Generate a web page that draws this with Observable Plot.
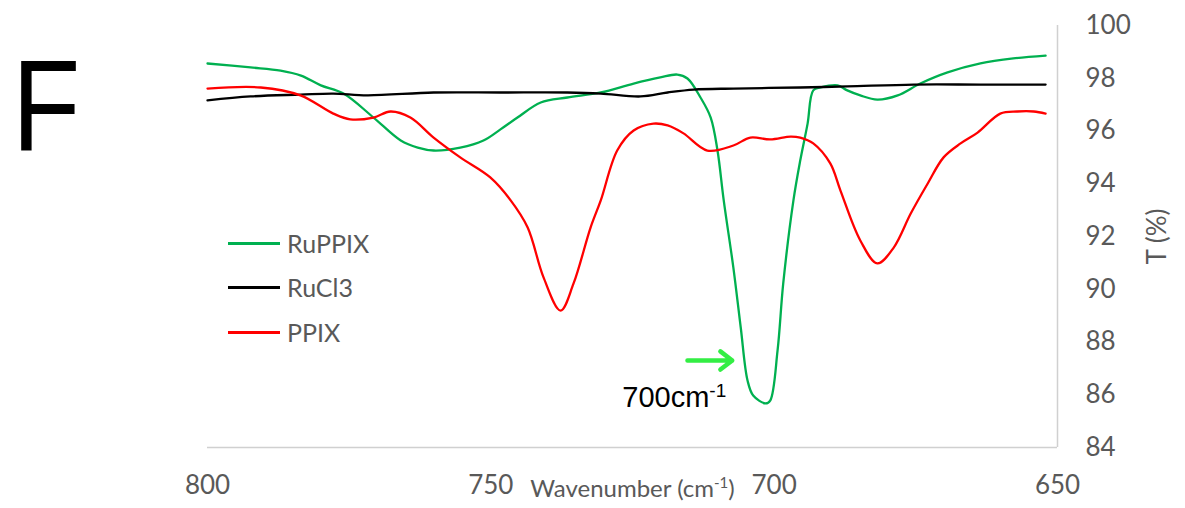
<!DOCTYPE html>
<html><head><meta charset="utf-8">
<script src="https://cdn.jsdelivr.net/npm/d3@7"></script>
<script src="https://cdn.jsdelivr.net/npm/@observablehq/plot@0.6"></script>
<style>
body{margin:0;background:#fff;}
#wrap{position:relative;width:1185px;height:508px;overflow:hidden;background:#fff;}
#wrap svg{position:absolute;left:0;top:0;}
.panel{position:absolute;left:12px;top:40px;font-family:"Liberation Sans",Arial,sans-serif;font-size:130px;line-height:1;color:#000;transform:scaleX(0.86);transform-origin:left top;}
.leg{position:absolute;left:228px;font-family:Lato,sans-serif;font-size:25px;color:#595959;display:flex;align-items:center;height:30px;}
.leg span.sw{display:inline-block;width:52px;height:3px;margin-right:7px;}
</style></head><body><div id="wrap"></div><script>
// RuPPIX
const wnRuPPIX = [800, 792.4, 787.1, 783.5, 780.0, 776.0, 770.7, 765.9, 762.9, 760.1, 755.4, 751.3, 748.3, 745.3, 741.2, 736.5, 730.6, 724.8, 720.1, 717.1, 715.3, 713.0, 711.2, 710.0, 708.9, 707.2, 705.9, 704.7, 703.7, 701.5, 700.7, 699.4, 698.4, 696.6, 695.4, 694.1, 693.1, 691.8, 688.8, 687.1, 684.8, 681.8, 678.2, 674.2, 669.4, 663.6, 657.8, 652.1];
const tRuPPIX = [98.56, 98.41, 98.29, 98.10, 97.73, 97.42, 96.51, 95.64, 95.37, 95.26, 95.37, 95.64, 96.06, 96.51, 97.08, 97.27, 97.46, 97.80, 98.03, 98.14, 97.99, 97.27, 96.51, 95.26, 93.37, 90.82, 88.55, 86.54, 85.97, 85.67, 85.78, 87.68, 90.22, 93.37, 94.88, 96.28, 97.54, 97.65, 97.73, 97.54, 97.35, 97.19, 97.35, 97.80, 98.22, 98.56, 98.75, 98.86];
// RuCl3
const wnRuCl3 = [800, 792.4, 783.6, 777.8, 771.8, 760.1, 748.3, 736.5, 730.6, 723.6, 718.8, 714.2, 707.2, 695.4, 687.1, 675.4, 663.6, 652.1];
const tRuCl3 = [97.16, 97.31, 97.38, 97.42, 97.35, 97.46, 97.46, 97.46, 97.42, 97.31, 97.46, 97.57, 97.61, 97.65, 97.69, 97.76, 97.76, 97.76];
// PPIX
const wnPPIX = [800, 790.6, 783.6, 777.8, 774.8, 770.7, 767.7, 764.2, 760.1, 755.4, 750.1, 746.5, 743.5, 740.7, 737.7, 735.4, 732.4, 730.6, 727.7, 724.8, 721.3, 718.8, 716.0, 711.8, 707.2, 704.2, 700.7, 697.1, 695.4, 693.1, 690.1, 688.3, 684.8, 681.8, 678.9, 675.9, 672.9, 670.1, 667.1, 664.1, 660.1, 657.1, 654.2, 652.1];
const tPPIX = [97.61, 97.65, 97.35, 96.66, 96.44, 96.51, 96.74, 96.51, 95.75, 95.00, 94.24, 93.37, 92.34, 90.45, 89.19, 90.22, 92.34, 93.37, 95.26, 96.02, 96.28, 96.21, 95.91, 95.26, 95.45, 95.75, 95.68, 95.79, 95.75, 95.53, 94.77, 93.74, 91.85, 90.98, 91.58, 92.87, 94.01, 95.00, 95.53, 95.94, 96.66, 96.74, 96.74, 96.66];

const seriesNames = ["RuPPIX", "RuCl3", "PPIX"];
const seriesColors = ["#00B050", "#000000", "#FF0000"];
const xTicks = [800, 750, 700, 650];
const yTicks = [84, 86, 88, 90, 92, 94, 96, 98, 100];
const xLabelParts = ["Wavenumber (cm", "-1", ")"];
const yLabel = "T (%)";
const panelLabel = "F";
// annotation (arrow pointing at the 700 cm-1 band)
const arrowFrom = [715.3]; const arrowTo = [707.4]; const arrowT = [87.3];
const annotX = [726.8]; const annotT = [85.9]; const annotParts = [["700cm", "-1"]];

const rows = [];
[[wnRuPPIX, tRuPPIX], [wnRuCl3, tRuCl3], [wnPPIX, tPPIX]].forEach(([w, t], i) => {
  w.forEach((v, j) => rows.push({series: seriesNames[i], wn: v, t: t[j]}));
});
const arrows = arrowFrom.map((v, i) => ({x1: v, x2: arrowTo[i], y: arrowT[i]}));
const annots = annotX.map((v, i) => ({x: v, y: annotT[i], text: annotParts[i].join("")}));
const xLabel = xLabelParts.join("");

const chart = Plot.plot({
  width: 1185, height: 508,
  marginLeft: 207, marginRight: 128, marginTop: 25, marginBottom: 61,
  x: {domain: [800, 650]},
  y: {domain: [84, 100]},
  color: {domain: seriesNames, range: seriesColors},
  style: {background: "white"},
  marks: [
    Plot.ruleY([84], {stroke: "#d0d0d0", strokeWidth: 1.5}),
    Plot.ruleX([650], {stroke: "#d0d0d0", strokeWidth: 1.5}),
    Plot.axisX({ticks: xTicks, tickSize: 0, tickPadding: 28, fontSize: 26, fontFamily: "Lato, sans-serif", color: "#595959", label: null}),
    Plot.axisY({anchor: "right", ticks: yTicks, tickSize: 0, tickPadding: 28, fontSize: 26, fontFamily: "Lato, sans-serif", color: "#595959", label: null}),
    Plot.text([xLabel], {frameAnchor: "bottom", dy: 49, fontSize: 24, fontFamily: "Lato, sans-serif", fill: "#595959", textAnchor: "middle", className: "xlab"}),
    Plot.text([yLabel], {frameAnchor: "right", dx: 100, rotate: -90, fontSize: 26, fontFamily: "Lato, sans-serif", fill: "#595959", textAnchor: "middle"}),
    Plot.line(rows, {x: "wn", y: "t", z: "series", stroke: "series", strokeWidth: 2.3, curve: "catmull-rom"}),
    Plot.arrow(arrows, {x1: "x1", x2: "x2", y1: "y", y2: "y", stroke: "#33EE44", strokeWidth: 4.5, headLength: 14, headAngle: 75}),
    Plot.text(annots, {x: "x", y: "y", text: "text", textAnchor: "start", fontSize: 29, fontFamily: "Liberation Sans, Arial, sans-serif", fill: "#000", className: "annot"})
  ]
});
const wrap = document.getElementById("wrap");
wrap.appendChild(chart);

// superscripts
function superscript(sel, parts, supSize) {
  d3.select(chart).selectAll(sel + " text").each(function() {
    const t = d3.select(this);
    t.text(null);
    parts.forEach((p, k) => {
      const ts = t.append("tspan").text(p);
      if (p === "-1") ts.attr("baseline-shift", "super").attr("font-size", supSize);
    });
  });
}
superscript(".xlab", xLabelParts, 15);
superscript(".annot", annotParts[0], 19);

const p = document.createElement("div");
p.className = "panel"; p.textContent = panelLabel;
wrap.appendChild(p);

const legTops = [228, 272, 317];
seriesNames.forEach((s, i) => {
  const d = document.createElement("div");
  d.className = "leg";
  d.style.top = legTops[i] + "px";
  const sw = document.createElement("span");
  sw.className = "sw"; sw.style.background = seriesColors[i];
  d.appendChild(sw);
  d.appendChild(document.createTextNode(s));
  wrap.appendChild(d);
});
</script></body></html>
